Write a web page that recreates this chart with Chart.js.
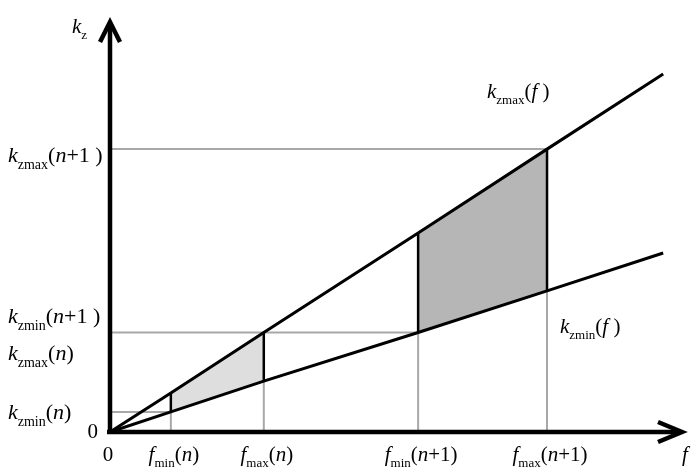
<!DOCTYPE html>
<html lang="en">
<head>
    <meta charset="UTF-8">
    <title>kz vs f</title>
    <script src="https://cdn.jsdelivr.net/npm/chart.js"></script>
    <style>
        body { margin: 0; background: #fff; }
        canvas { display: block; }
    </style>
</head>
<body>
    <canvas id="kzChart" width="693" height="468"></canvas>

    <script>
        // f values: 0, fmin(n), fmax(n), fmin(n+1), fmax(n+1), end of lines
        const freqs = [0, 1.10, 2.78, 5.57, 7.90, 10.0];
        const kzMax = [0, 1.09, 2.78, 5.56, 7.90, 10.0];
        const kzMin = [0, 0.56, 1.42, 2.78, 3.94, 5.0];

        const xLabels = [
            [['f', 'i'], ['min', 's'], ['(', 'r'], ['n', 'i'], [')', 'r']],
            [['f', 'i'], ['max', 's'], ['(', 'r'], ['n', 'i'], [')', 'r']],
            [['f', 'i'], ['min', 's'], ['(', 'r'], ['n', 'i'], ['+1)', 'r']],
            [['f', 'i'], ['max', 's'], ['(', 'r'], ['n', 'i'], ['+1)', 'r']]
        ];

        const pts = (xs, ys) => xs.map((x, i) => ({ x: x, y: ys[i] }));

        const black = '#000';
        const guide = '#a8a8a8';

        const datasets = [];

        // main lines
        datasets.push({ data: pts(freqs, kzMax), borderColor: black, borderWidth: 3, order: 1 });
        datasets.push({ data: pts(freqs, kzMin), borderColor: black, borderWidth: 3, order: 1 });

        // black verticals between the two lines
        for (let i = 1; i <= 4; i++) {
            datasets.push({ data: pts([freqs[i], freqs[i]], [kzMin[i], kzMax[i]]), borderColor: black, borderWidth: 2.5, order: 2 });
        }

        // gray guide lines
        for (let i = 1; i <= 4; i++) {
            datasets.push({ data: pts([freqs[i], freqs[i]], [0, kzMin[i]]), borderColor: guide, borderWidth: 2, order: 3 });
        }
        datasets.push({ data: pts([0, freqs[1]], [kzMin[1], kzMin[1]]), borderColor: guide, borderWidth: 2, order: 3 });
        datasets.push({ data: pts([0, freqs[3]], [kzMin[3], kzMin[3]]), borderColor: guide, borderWidth: 2, order: 3 });
        datasets.push({ data: pts([0, freqs[4]], [kzMax[4], kzMax[4]]), borderColor: guide, borderWidth: 2, order: 3 });

        // shaded bands
        datasets.push({ data: pts(freqs.slice(1, 3), kzMax.slice(1, 3)), borderWidth: 0, fill: '+1', backgroundColor: '#dedede', order: 5 });
        datasets.push({ data: pts(freqs.slice(1, 3), kzMin.slice(1, 3)), borderWidth: 0, order: 5 });
        datasets.push({ data: pts(freqs.slice(3, 5), kzMax.slice(3, 5)), borderWidth: 0, fill: '+1', backgroundColor: '#b6b6b6', order: 6 });
        datasets.push({ data: pts(freqs.slice(3, 5), kzMin.slice(3, 5)), borderWidth: 0, order: 6 });

        datasets.forEach(d => {
            d.pointRadius = 0;
            d.tension = 0;
            if (d.fill === undefined) d.fill = false;
            d.clip = false;
        });

        const FONT = '"Liberation Serif", "Times New Roman", serif';

        function drawRuns(ctx, runs, x, y, align, size) {
            const sub = Math.round(size * 0.62);
            const fontFor = t => t === 'i' ? `italic ${size}px ${FONT}` : t === 's' ? `${sub}px ${FONT}` : `${size}px ${FONT}`;
            let w = 0;
            runs.forEach(r => { ctx.font = fontFor(r[1]); w += ctx.measureText(r[0]).width; });
            let cx = align === 'center' ? x - w / 2 : align === 'right' ? x - w : x;
            ctx.textAlign = 'left';
            ctx.textBaseline = 'alphabetic';
            runs.forEach(r => {
                ctx.font = fontFor(r[1]);
                ctx.fillText(r[0], cx, r[1] === 's' ? y + size * 0.3 : y);
                cx += ctx.measureText(r[0]).width;
            });
        }

        const axesAndText = {
            id: 'axesAndText',
            afterDatasetsDraw(chart) {
                const ctx = chart.ctx;
                const xs = chart.scales.x, ys = chart.scales.y;
                const ox = xs.getPixelForValue(0), oy = ys.getPixelForValue(0);
                const right = chart.chartArea.right, top = chart.chartArea.top;
                ctx.save();
                ctx.strokeStyle = black;
                ctx.lineWidth = 4.5;
                ctx.lineCap = 'butt';
                ctx.beginPath();
                ctx.moveTo(ox - 3, oy);
                ctx.lineTo(right - 2, oy);
                ctx.moveTo(ox, oy + 2);
                ctx.lineTo(ox, top + 2);
                ctx.stroke();
                ctx.lineJoin = 'miter';
                ctx.beginPath();
                ctx.moveTo(right - 24, oy - 10);
                ctx.lineTo(right, oy);
                ctx.lineTo(right - 24, oy + 10);
                ctx.moveTo(ox - 10, top + 20);
                ctx.lineTo(ox, top);
                ctx.lineTo(ox + 10, top + 20);
                ctx.stroke();

                ctx.fillStyle = black;
                // x axis labels
                const base = oy + 29;
                xLabels.forEach((lab, i) => drawRuns(ctx, lab, xs.getPixelForValue(freqs[i + 1]) + 3, base, 'center', 21));
                drawRuns(ctx, [['0', 'r']], ox - 2, base, 'center', 21);
                drawRuns(ctx, [['0', 'r']], ox - 12, oy + 6, 'right', 21);
                drawRuns(ctx, [['f', 'i']], right + 3, base, 'center', 21);
                drawRuns(ctx, [['k', 'i'], ['z', 's']], ox - 38, top + 11, 'left', 21);

                // y axis labels
                const lx = 8;
                drawRuns(ctx, [['k', 'i'], ['zmax', 's'], ['(', 'r'], ['n', 'i'], ['+1 )', 'r']], lx, ys.getPixelForValue(kzMax[4]) + 13, 'left', 22);
                drawRuns(ctx, [['k', 'i'], ['zmin', 's'], ['(', 'r'], ['n', 'i'], ['+1 )', 'r']], lx, ys.getPixelForValue(kzMin[3]) - 9, 'left', 22);
                drawRuns(ctx, [['k', 'i'], ['zmax', 's'], ['(', 'r'], ['n', 'i'], [')', 'r']], lx, ys.getPixelForValue(kzMax[2]) + 28, 'left', 22);
                drawRuns(ctx, [['k', 'i'], ['zmin', 's'], ['(', 'r'], ['n', 'i'], [')', 'r']], lx, ys.getPixelForValue(kzMin[1]) + 7, 'left', 22);

                // line names
                drawRuns(ctx, [['k', 'i'], ['zmax', 's'], ['(', 'r'], ['f', 'i'], [' )', 'r']], xs.getPixelForValue(freqs[4]) - 60, ys.getPixelForValue(kzMax[4]) - 51, 'left', 21);
                drawRuns(ctx, [['k', 'i'], ['zmin', 's'], ['(', 'r'], ['f', 'i'], [' )', 'r']], xs.getPixelForValue(freqs[4]) + 13, ys.getPixelForValue(kzMin[4]) + 42, 'left', 21);
                ctx.restore();
            }
        };

        new Chart(document.getElementById('kzChart').getContext('2d'), {
            type: 'line',
            data: { datasets },
            options: {
                responsive: false,
                animation: false,
                layout: { padding: { left: 110, right: 11, top: 22, bottom: 36 } },
                scales: {
                    x: { type: 'linear', min: 0, max: 10.34, display: false },
                    y: { type: 'linear', min: 0, max: 11.45, display: false }
                },
                plugins: { legend: { display: false }, tooltip: { enabled: false } }
            },
            plugins: [axesAndText]
        });
    </script>
</body>
</html>
